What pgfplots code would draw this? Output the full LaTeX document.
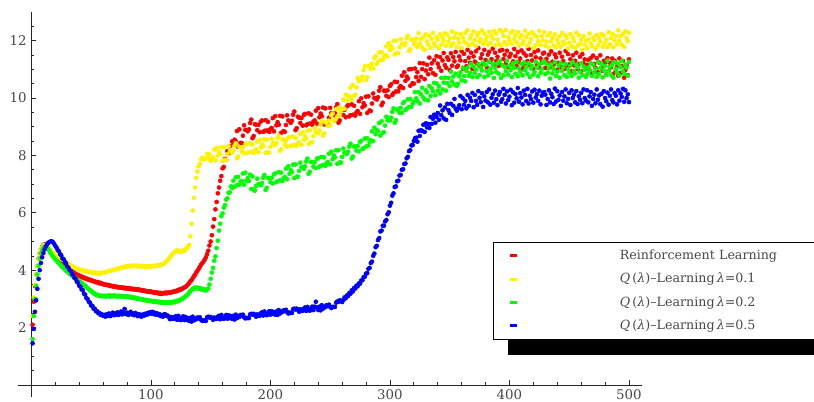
\documentclass[border=0pt]{standalone}
\usepackage{fontspec}
\setmainfont{DejaVu Serif}
\usepackage{pgfplots}
\usepackage{pgfplotstable}
\pgfplotsset{compat=1.18}
\pgfdeclarelayer{background}
\pgfsetlayers{background,main}
\pgfplotstableread{
x R Y G B
1 2.10 2.40 1.60 1.45
2 2.90 3.05 2.40 1.95
3 3.45 3.50 3.00 2.55
4 3.85 3.85 3.45 2.95
5 4.15 4.15 3.85 3.35
6 4.40 4.38 4.15 3.70
7 4.58 4.55 4.40 4.00
8 4.72 4.70 4.58 4.25
9 4.82 4.80 4.70 4.45
10 4.88 4.86 4.78 4.60
11 4.90 4.88 4.82 4.72
12 4.88 4.87 4.83 4.82
13 4.85 4.84 4.80 4.90
14 4.80 4.80 4.75 4.95
15 4.74 4.75 4.68 4.98
16 4.68 4.70 4.60 5.00
17 4.62 4.66 4.54 5.01
18 4.56 4.62 4.48 4.98
19 4.50 4.58 4.43 4.92
20 4.45 4.55 4.38 4.85
21 4.41 4.52 4.33 4.79
22 4.37 4.50 4.29 4.70
23 4.34 4.46 4.25 4.66
24 4.29 4.43 4.19 4.56
25 4.26 4.41 4.16 4.52
26 4.21 4.37 4.10 4.41
27 4.19 4.35 4.08 4.38
28 4.14 4.30 4.02 4.29
29 4.12 4.29 3.99 4.24
30 4.07 4.24 3.95 4.13
31 4.05 4.23 3.92 4.09
32 4.01 4.18 3.87 4.00
33 3.99 4.17 3.86 3.97
34 3.95 4.13 3.80 3.86
35 3.93 4.12 3.79 3.84
36 3.89 4.09 3.74 3.73
37 3.88 4.08 3.72 3.70
38 3.84 4.04 3.67 3.60
39 3.84 4.05 3.66 3.57
40 3.80 4.02 3.61 3.46
41 3.80 4.02 3.60 3.43
42 3.76 3.99 3.54 3.33
43 3.77 4.00 3.53 3.30
44 3.72 3.97 3.47 3.18
45 3.73 3.98 3.46 3.15
46 3.69 3.95 3.41 3.03
47 3.70 3.96 3.38 3.00
48 3.66 3.93 3.33 2.90
49 3.67 3.94 3.31 2.87
50 3.64 3.92 3.27 2.77
51 3.64 3.93 3.24 2.76
52 3.61 3.90 3.19 2.66
53 3.61 3.92 3.19 2.66
54 3.58 3.89 3.14 2.57
55 3.59 3.91 3.14 2.57
56 3.55 3.88 3.11 2.50
57 3.57 3.90 3.12 2.51
58 3.53 3.88 3.09 2.44
59 3.54 3.91 3.11 2.46
60 3.51 3.92 3.09 2.41
61 3.50 3.92 3.11 2.44
62 3.50 3.94 3.08 2.38
63 3.48 3.94 3.11 2.46
64 3.49 3.96 3.09 2.41
65 3.46 3.97 3.12 2.49
66 3.47 3.98 3.08 2.40
67 3.44 3.99 3.11 2.47
68 3.45 4.01 3.09 2.52
69 3.42 4.01 3.12 2.43
70 3.44 4.03 3.09 2.50
71 3.41 4.03 3.11 2.45
72 3.42 4.05 3.08 2.53
73 3.39 4.05 3.11 2.44
74 3.41 4.08 3.09 2.49
75 3.39 4.08 3.10 2.56
76 3.40 4.10 3.07 2.46
77 3.37 4.09 3.10 2.51
78 3.39 4.12 3.08 2.65
79 3.36 4.12 3.09 2.47
80 3.38 4.14 3.06 2.52
81 3.35 4.13 3.09 2.44
82 3.37 4.15 3.06 2.50
83 3.34 4.14 3.07 2.55
84 3.36 4.16 3.04 2.46
85 3.33 4.14 3.06 2.49
86 3.35 4.16 3.03 2.43
87 3.32 4.14 3.04 2.51
88 3.34 4.16 3.01 2.46
89 3.31 4.13 3.02 2.40
90 3.33 4.15 2.99 2.47
91 3.30 4.13 3.00 2.42
92 3.31 4.15 2.98 2.38
93 3.28 4.12 2.99 2.45
94 3.30 4.14 2.96 2.41
95 3.27 4.12 2.97 2.48
96 3.28 4.14 2.94 2.44
97 3.25 4.12 2.96 2.51
98 3.27 4.14 2.93 2.47
99 3.24 4.12 2.94 2.53
100 3.26 4.14 2.92 2.49
101 3.23 4.13 2.93 2.55
102 3.24 4.15 2.90 2.47
103 3.21 4.13 2.92 2.52
104 3.23 4.16 2.89 2.45
105 3.20 4.15 2.91 2.50
106 3.22 4.17 2.88 2.44
107 3.18 4.16 2.90 2.47
108 3.21 4.19 2.87 2.40
109 3.17 4.18 2.89 2.43
110 3.20 4.21 2.86 2.38
111 3.19 4.23 2.88 2.46
112 3.22 4.27 2.86 2.46
113 3.19 4.30 2.88 2.41
114 3.22 4.35 2.86 2.42
115 3.21 4.40 2.88 2.37
116 3.23 4.46 2.86 2.29
117 3.22 4.50 2.89 2.37
118 3.25 4.56 2.87 2.32
119 3.24 4.60 2.90 2.30
120 3.27 4.64 2.89 2.37
121 3.26 4.66 2.92 2.40
122 3.30 4.70 2.91 2.27
123 3.29 4.66 2.95 2.41
124 3.33 4.63 2.94 2.32
125 3.32 4.66 2.98 2.26
126 3.36 4.64 2.99 2.30
127 3.37 4.69 3.03 2.39
128 3.40 4.67 3.05 2.26
129 3.42 4.73 3.09 2.37
130 3.46 4.76 3.12 2.27
131 3.50 4.82 3.16 2.33
132 3.55 4.88 3.22 2.23
133 3.61 5.18 3.26 2.34
134 3.65 5.62 3.31 2.21
135 3.72 6.08 3.35 2.38
136 3.79 6.52 3.37 2.25
137 3.84 6.88 3.40 2.31
138 3.92 7.22 3.36 2.29
139 3.98 7.44 3.39 2.35
140 4.05 7.62 3.36 2.32
141 4.12 7.70 3.38 2.36
142 4.19 7.86 3.33 2.27
143 4.25 7.92 3.35 2.23
144 4.30 7.88 3.31 2.25
145 4.37 7.87 3.33 2.24
146 4.45 7.89 3.29 2.23
147 4.56 8.05 3.32 2.36
148 4.68 7.91 3.36 2.38
149 4.86 8.04 3.50 2.35
150 5.00 7.81 3.70 2.37
151 5.22 7.89 3.92 2.33
152 5.52 7.93 4.08 2.27
153 5.78 8.20 4.33 2.35
154 6.12 7.83 4.48 2.31
155 6.38 8.26 4.77 2.30
156 6.68 8.00 5.03 2.38
157 6.88 8.12 5.38 2.41
158 7.12 8.04 5.62 2.29
159 7.28 8.29 5.88 2.44
160 7.55 7.81 5.98 2.35
161 7.60 8.28 6.18 2.30
162 7.88 7.85 6.27 2.34
163 7.85 7.84 6.46 2.44
164 8.15 8.04 6.50 2.31
165 8.07 8.32 6.70 2.43
166 8.32 8.16 6.71 2.33
167 8.15 8.15 6.92 2.40
168 8.49 8.10 6.86 2.30
169 8.38 8.17 7.12 2.41
170 8.55 8.34 6.91 2.28
171 8.50 8.43 7.24 2.45
172 8.85 7.90 6.97 2.33
173 8.30 7.96 7.25 2.39
174 8.91 8.30 6.98 2.37
175 8.44 8.28 7.09 2.44
176 8.43 8.13 7.11 2.41
177 8.69 8.27 7.37 2.45
178 9.05 8.07 6.98 2.36
179 8.89 8.38 7.40 2.32
180 8.88 8.41 7.12 2.34
181 8.84 8.09 7.21 2.33
182 8.91 8.12 7.11 2.33
183 9.13 8.42 7.33 2.46
184 9.25 8.13 6.83 2.48
185 8.60 8.38 7.27 2.45
186 8.68 8.09 6.81 2.48
187 9.09 8.17 6.77 2.44
188 9.07 8.21 6.94 2.38
189 8.88 8.48 7.19 2.46
190 9.07 8.11 7.00 2.43
191 8.81 8.54 7.00 2.41
192 9.18 8.28 6.96 2.50
193 9.22 8.39 7.04 2.53
194 8.82 8.32 7.22 2.42
195 8.86 8.56 7.32 2.56
196 9.23 8.09 6.80 2.48
197 8.87 8.55 6.87 2.43
198 9.17 8.12 7.22 2.48
199 8.82 8.10 7.21 2.57
200 8.92 8.30 7.07 2.45
201 8.96 8.58 7.22 2.57
202 9.30 8.42 7.02 2.48
203 8.84 8.41 7.34 2.54
204 9.37 8.36 7.37 2.45
205 9.05 8.43 7.07 2.56
206 9.16 8.60 7.10 2.44
207 9.07 8.69 7.42 2.61
208 9.38 8.16 7.13 2.49
209 8.79 8.22 7.40 2.55
210 9.36 8.56 7.11 2.54
211 8.85 8.54 7.21 2.60
212 8.82 8.38 7.25 2.58
213 9.06 8.52 7.54 2.62
214 9.40 8.31 7.17 2.54
215 9.22 8.62 7.62 2.49
216 9.19 8.64 7.36 2.52
217 9.14 8.33 7.49 2.51
218 9.21 8.35 7.42 2.51
219 9.42 8.66 7.68 2.64
220 9.53 8.36 7.21 2.66
221 8.88 8.62 7.69 2.63
222 8.95 8.33 7.26 2.66
223 9.35 8.42 7.26 2.62
224 9.32 8.46 7.46 2.55
225 9.13 8.74 7.75 2.64
226 9.30 8.37 7.59 2.60
227 9.04 8.81 7.59 2.58
228 9.41 8.55 7.54 2.66
229 9.45 8.67 7.62 2.70
230 9.05 8.60 7.79 2.58
231 9.09 8.86 7.89 2.72
232 9.47 8.40 7.36 2.64
233 9.11 8.88 7.43 2.59
234 9.42 8.46 7.77 2.64
235 9.07 8.46 7.76 2.73
236 9.18 8.67 7.61 2.61
237 9.22 8.96 7.76 2.73
238 9.56 8.81 7.56 2.90
239 9.11 8.81 7.88 2.70
240 9.65 8.77 7.91 2.61
241 9.33 8.87 7.60 2.73
242 9.46 9.07 7.64 2.60
243 9.37 9.19 7.95 2.78
244 9.67 8.69 7.66 2.66
245 9.08 8.78 7.93 2.72
246 9.64 9.15 7.64 2.71
247 9.13 9.16 7.73 2.78
248 9.09 9.04 7.77 2.75
249 9.32 9.21 8.06 2.80
250 9.66 9.04 7.69 2.72
251 9.48 9.39 8.13 2.68
252 9.45 9.46 7.87 2.72
253 9.40 9.19 8.00 2.72
254 9.47 9.26 7.93 2.72
255 9.68 9.61 8.18 2.87
256 9.79 9.36 7.71 2.91
257 9.14 9.66 8.18 2.90
258 9.22 9.41 7.76 2.95
259 9.62 9.54 7.75 2.93
260 9.60 9.62 7.95 2.89
261 9.41 9.95 8.24 2.96
262 9.59 9.63 8.09 3.05
263 9.33 10.12 8.09 3.02
264 9.71 9.91 8.05 3.12
265 9.75 10.08 8.13 3.10
266 9.36 10.06 8.31 3.20
267 9.40 10.36 8.41 3.18
268 9.78 9.94 7.89 3.30
269 9.42 10.46 7.96 3.26
270 9.73 10.08 8.31 3.38
271 9.39 10.12 8.31 3.36
272 9.50 10.37 8.17 3.46
273 9.55 10.70 8.33 3.44
274 9.89 10.59 8.14 3.54
275 9.45 10.63 8.47 3.53
276 9.99 10.63 8.51 3.64
277 9.68 10.75 8.22 3.65
278 9.82 10.97 8.26 3.76
279 9.74 11.11 8.59 3.77
280 10.05 10.63 8.31 3.88
281 9.48 10.73 8.60 3.90
282 10.06 11.11 8.34 4.05
283 9.57 11.13 8.46 4.08
284 9.55 11.02 8.53 4.25
285 9.81 11.20 8.84 4.30
286 10.16 11.04 8.50 4.50
287 10.00 11.39 8.97 4.58
288 9.98 11.46 8.74 4.80
289 9.95 11.19 8.89 4.85
290 10.03 11.26 8.85 5.05
291 10.26 11.59 9.13 5.12
292 10.38 11.32 8.69 5.35
293 9.75 11.60 9.19 5.38
294 9.84 11.33 8.79 5.55
295 10.26 11.44 8.81 5.55
296 10.25 11.50 9.04 5.70
297 10.08 11.80 9.35 5.75
298 10.27 11.45 9.22 5.95
299 10.03 11.91 9.24 6.02
300 10.42 11.67 9.22 6.25
301 10.48 11.80 9.32 6.35
302 10.11 11.73 9.52 6.60
303 10.17 11.99 9.64 6.68
304 10.57 11.52 9.14 6.90
305 10.23 12.00 9.23 6.92
306 10.56 11.57 9.60 7.10
307 10.23 11.57 9.61 7.12
308 10.36 11.77 9.49 7.30
309 10.42 12.06 9.66 7.32
310 10.78 11.90 9.49 7.50
311 10.35 11.89 9.82 7.52
312 10.90 11.84 9.87 7.70
313 10.60 11.91 9.58 7.72
314 10.75 12.08 9.63 7.90
315 10.68 12.17 9.96 7.95
316 11.00 11.64 9.69 8.15
317 10.43 11.70 9.97 8.18
318 11.01 12.04 9.70 8.35
319 10.52 12.02 9.81 8.36
320 10.50 11.87 9.87 8.50
321 11.03 11.92 10.21 8.60
322 10.73 12.07 9.99 8.62
323 10.90 11.78 9.89 8.48
324 10.60 12.26 10.21 8.86
325 11.22 11.90 9.81 8.68
326 10.74 12.06 10.13 8.88
327 11.01 11.76 10.36 8.85
328 11.21 12.12 10.02 9.07
329 10.66 11.68 9.95 8.82
330 10.96 12.22 10.27 9.12
331 11.16 11.98 10.20 8.98
332 10.83 11.87 9.92 9.10
333 11.41 12.17 10.42 8.96
334 11.01 11.75 10.08 9.34
335 11.21 12.06 10.34 9.10
336 10.87 12.27 10.24 9.28
337 11.32 11.91 10.53 9.42
338 10.81 11.82 10.10 9.14
339 11.46 12.12 10.51 9.34
340 11.20 12.03 10.26 9.48
341 11.07 11.73 10.41 9.24
342 11.43 12.22 10.16 9.74
343 10.95 11.86 10.70 9.40
344 11.31 12.11 10.30 9.57
345 11.57 11.99 10.54 9.29
346 11.15 12.26 10.71 9.67
347 11.06 11.82 10.26 9.24
348 11.42 12.21 10.52 9.80
349 11.33 11.95 10.70 9.58
350 10.98 12.08 10.42 9.48
351 11.56 11.81 10.92 9.80
352 11.13 12.32 10.58 9.41
353 11.43 11.90 10.75 9.73
354 11.28 12.11 10.47 9.97
355 11.61 12.26 10.85 9.63
356 11.08 11.78 10.42 9.56
357 11.13 12.07 10.50 9.64
358 11.45 11.93 10.76 9.75
359 11.31 12.23 10.90 10.07
360 11.63 11.75 10.62 9.61
361 11.03 12.11 11.06 9.99
362 11.54 11.97 10.77 9.76
363 11.29 12.27 10.58 9.90
364 11.11 11.91 10.95 9.64
365 11.68 12.36 11.06 10.11
366 11.41 11.83 10.77 9.73
367 11.23 12.07 10.88 10.01
368 11.58 12.19 11.19 9.90
369 11.02 11.89 10.73 10.18
370 11.45 12.32 11.10 9.68
371 11.27 12.02 10.87 10.11
372 11.63 11.81 10.99 9.90
373 11.20 12.17 10.73 9.76
374 11.74 12.27 11.18 10.24
375 11.11 11.97 10.80 10.01
376 11.39 12.06 11.07 9.86
377 11.53 12.36 10.96 10.17
378 11.19 11.89 11.23 9.69
379 11.68 12.25 10.73 10.06
380 11.33 12.01 11.15 9.91
381 11.08 12.13 10.94 10.21
382 11.51 11.86 10.79 9.85
383 11.61 12.31 11.27 10.30
384 11.26 11.92 11.03 9.77
385 11.36 12.19 10.88 10.01
386 11.72 12.07 11.18 10.13
387 11.15 12.34 10.70 9.84
388 11.58 11.83 11.06 10.26
389 11.29 12.25 10.91 9.96
390 11.44 12.04 11.21 9.75
391 11.12 11.89 10.85 10.12
392 11.65 12.37 11.30 10.21
393 11.15 11.83 10.70 9.87
394 11.68 12.31 11.15 9.96
395 11.36 12.16 10.79 10.32
396 11.51 11.95 11.09 10.11
397 11.22 12.37 10.94 9.81
398 11.65 11.86 11.30 10.23
399 11.08 12.13 10.82 9.93
400 11.44 12.01 11.12 10.05
401 11.54 12.28 10.97 10.29
402 11.19 11.89 10.73 9.75
403 11.28 12.33 11.21 10.20
404 11.71 12.06 11.06 9.84
405 11.46 12.18 10.85 10.14
406 11.11 11.94 11.27 9.99
407 11.60 12.30 10.76 10.35
408 11.25 11.82 11.03 9.87
409 11.38 12.11 10.91 10.17
410 11.66 12.20 11.18 10.02
411 11.03 11.90 10.79 9.78
412 11.56 11.99 11.24 10.26
413 11.12 12.35 10.97 10.11
414 11.48 12.13 11.09 9.90
415 11.29 11.82 10.85 10.32
416 11.71 12.24 11.21 9.81
417 11.15 11.94 10.73 10.08
418 11.50 12.06 11.03 9.96
419 11.31 12.29 11.12 10.23
420 11.03 11.75 10.82 9.84
421 11.60 12.20 10.91 10.29
422 11.42 11.84 11.27 10.02
423 11.17 12.14 11.06 10.14
424 11.66 11.98 10.76 9.90
425 11.06 12.34 11.18 10.26
426 11.38 11.86 10.88 9.78
427 11.23 12.16 11.00 10.08
428 11.55 12.01 11.24 10.17
429 11.58 12.30 11.28 10.21
430 11.05 11.82 10.83 10.12
431 11.37 11.97 11.19 9.76
432 11.22 12.18 10.89 9.97
433 11.51 11.76 11.04 10.27
434 11.07 12.26 10.68 9.85
435 11.63 11.98 11.16 10.15
436 11.27 12.10 10.86 10.03
437 11.17 11.83 11.01 9.79
438 11.52 12.22 11.25 10.33
439 11.42 11.77 10.77 9.88
440 10.98 12.03 10.92 10.24
441 11.23 11.91 11.13 9.94
442 11.58 12.15 10.71 10.09
443 11.09 11.79 11.22 9.73
444 11.44 12.27 10.95 10.21
445 11.29 11.97 11.07 9.91
446 11.01 11.88 10.80 10.06
447 11.64 12.18 11.19 10.30
448 11.11 12.09 10.74 9.82
449 11.53 11.73 11.01 9.97
450 11.17 11.93 10.89 10.18
451 11.35 12.23 11.13 9.76
452 10.93 11.81 10.77 10.27
453 11.49 12.11 11.25 10.00
454 11.14 11.99 10.95 10.12
455 11.30 11.74 10.86 9.85
456 11.58 12.28 11.16 10.24
457 11.01 11.83 11.07 9.79
458 11.19 12.19 10.71 10.06
459 11.44 11.89 10.92 9.94
460 10.93 12.04 11.22 10.18
461 11.53 11.68 10.80 9.82
462 11.21 12.16 11.10 10.30
463 11.35 11.86 10.98 10.00
464 11.03 12.01 10.74 9.91
465 11.16 11.74 10.83 10.27
466 11.33 12.04 11.07 9.85
467 10.97 12.25 10.95 10.06
468 11.39 11.90 11.22 10.21
469 10.86 11.81 10.77 9.73
470 11.48 12.11 11.16 9.97
471 11.19 12.02 10.89 10.12
472 11.05 11.72 11.01 9.82
473 11.39 12.20 10.74 10.30
474 10.90 11.84 11.25 9.94
475 11.24 12.09 10.84 10.09
476 11.49 11.97 11.05 9.79
477 11.06 12.24 11.20 10.15
478 10.95 11.79 10.72 9.70
479 11.30 12.18 10.96 10.24
480 11.19 11.91 11.12 10.00
481 10.82 12.03 10.82 9.89
482 11.39 11.77 11.30 10.19
483 10.95 12.29 10.94 9.77
484 11.23 11.87 11.09 10.08
485 11.07 12.09 10.80 10.30
486 11.38 12.24 11.16 9.93
487 10.85 11.77 10.71 9.85
488 11.30 12.01 11.25 10.17
489 10.97 12.17 11.02 10.08
490 11.11 11.87 10.90 9.78
491 10.78 12.36 11.20 10.27
492 11.38 12.00 10.78 9.91
493 10.87 12.16 11.08 10.16
494 11.11 11.86 11.29 10.04
495 11.29 12.23 10.94 10.32
496 10.71 11.78 10.85 9.87
497 10.98 12.33 11.16 10.27
498 11.15 12.09 11.07 10.00
499 10.80 11.98 10.78 10.13
500 11.35 12.28 11.26 9.86
}\data
\begin{document}
\begin{tikzpicture}
\begin{axis}[
  at={(13.5pt,3.75pt)}, anchor=south west,
  scale only axis, width=467.8pt, height=288.75pt,
  xmin=-11.2, xmax=510.7, ymin=-0.42, ymax=13.0,
  axis lines=middle,
  axis line style={-, line width=0.6pt, black!85},
  xtick={100,200,300,400,500},
  ytick={2,4,6,8,10,12},
  minor xtick={20,40,...,500},
  minor ytick={0.5,1,...,12.5},
  tick align=inside,
  major tick length=3.75pt, minor tick length=2.25pt,
  tick style={black!85, line width=0.5pt},
  /pgf/number format/assume math mode=true,
  tick label style={font=\fontsize{10}{12}\selectfont, text=black!72},
  legend cell align=left,
  legend image code/.code={\fill (0pt,-0.75pt) rectangle (4.5pt,0.75pt);},
  legend style={
    name=leg,
    at={(axis description cs:0.7616,0.4034)}, anchor=north west,
    draw=black, line width=0.6pt, fill=white,
    inner xsep=12.75pt, inner ysep=5.5pt,
    row sep=8pt,
    nodes={inner sep=0pt, text height=7.5pt, text depth=2pt, text width=180pt,
           align=left, font=\fontsize{9.5}{11}\selectfont, text=black!72},
    /tikz/every odd column/.style={column sep=77pt},
  },
]
\addplot[only marks, mark=*, mark size=1.5pt, color=red, mark options={draw=none, fill=red}] table[x=x, y=R]{\data};
\addlegendentry{Reinforcement Learning}
\addplot[only marks, mark=*, mark size=1.5pt, color=yellow, mark options={draw=none, fill=yellow}] table[x=x, y=Y]{\data};
\addlegendentry{\textit{Q}\,(\textit{λ})–Learning\,\textit{λ}=0.1}
\addplot[only marks, mark=*, mark size=1.5pt, color=green, mark options={draw=none, fill=green}] table[x=x, y=G]{\data};
\addlegendentry{\textit{Q}\,(\textit{λ})–Learning\,\textit{λ}=0.2}
\addplot[only marks, mark=*, mark size=1.5pt, color=blue, mark options={draw=none, fill=blue}] table[x=x, y=B]{\data};
\addlegendentry{\textit{Q}\,(\textit{λ})–Learning\,\textit{λ}=0.5}
\end{axis}
\begin{pgfonlayer}{background}
\fill[black] ([xshift=11.25pt,yshift=-11.25pt]leg.south west) rectangle ([xshift=11.25pt,yshift=-11.25pt]leg.north east);
\end{pgfonlayer}
\pgfresetboundingbox
\useasboundingbox (0,0) rectangle (610.5pt,301.5pt);
\end{tikzpicture}
\end{document}
